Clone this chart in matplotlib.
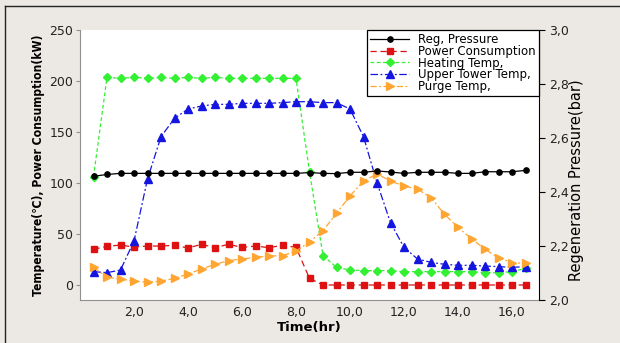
import matplotlib
matplotlib.use("Agg")
import matplotlib.pyplot as plt
from matplotlib.lines import Line2D
from matplotlib.ticker import FuncFormatter
from matplotlib import font_manager

# Sampling times (hr)
time_hr = [0.5 * i for i in range(1, 34)]

# Regeneration pressure (bar) - right axis
reg_pressure = [2.458, 2.465, 2.469, 2.469, 2.469, 2.469, 2.469, 2.469, 2.469,
                2.469, 2.469, 2.469, 2.469, 2.469, 2.469, 2.469, 2.472, 2.469,
                2.468, 2.473, 2.473, 2.478, 2.474, 2.469, 2.473, 2.473, 2.473,
                2.469, 2.469, 2.475, 2.475, 2.475, 2.480]

# Power consumption (kW) - left axis
power_kw = [35.0, 37.9, 39.2, 37.2, 38.2, 38.2, 38.9, 36.3, 39.9, 36.6, 39.9,
            36.9, 38.2, 36.6, 38.9, 36.9, 6.5, 0, 0, 0, 0, 0, 0, 0, 0, 0, 0, 0,
            0, 0, 0, 0, 0]

# Heating temperature (C)
heating_temp = [106.2, 203.6, 202.6, 203.6, 202.6, 203.6, 202.6, 203.6, 202.6,
                203.6, 202.6, 202.6, 202.6, 202.6, 202.6, 202.6, 111.0, 28.8,
                17.3, 14.7, 14.1, 14.1, 14.1, 13.1, 13.1, 13.1, 13.1, 13.1,
                13.1, 12.1, 12.1, 13.1, 16.3]

# Upper tower temperature (C)
upper_tower_temp = [13.1, 12.1, 14.7, 43.1, 103.9, 145.4, 163.4, 172.5, 175.5,
                    177.1, 177.1, 178.1, 178.1, 178.1, 178.8, 179.7, 179.7,
                    178.8, 178.8, 172.5, 145.4, 100.3, 61.1, 36.9, 25.5, 22.2,
                    20.3, 19.3, 19.3, 18.6, 18.0, 17.3, 18.0]

# Purge temperature (C)
purge_temp = [17.3, 7.5, 5.9, 3.9, 2.6, 3.9, 6.5, 10.8, 15.7, 20.3, 23.9, 25.5,
              27.1, 28.4, 28.8, 33.3, 42.2, 53.3, 70.3, 87.3, 102.0, 108.8,
              102.0, 97.0, 94.1, 85.6, 69.3, 56.5, 45.4, 35.0, 26.8, 21.9, 21.2]

x_ticks = [2, 4, 6, 8, 10, 12, 14, 16]
left_ticks = [0, 50, 100, 150, 200, 250]
right_ticks = [2.0, 2.2, 2.4, 2.6, 2.8, 3.0]

BG = "#ECE9E4"
plt.rcParams["font.family"] = ["DejaVu Sans"]

# use the condensed DejaVu face for the long left label when it is available
has_condensed = any("Condensed" in f.name or f.stretch == "condensed"
                    for f in font_manager.fontManager.ttflist
                    if f.name.startswith("DejaVu Sans"))
left_label_kw = (dict(fontsize=8.7, fontstretch="condensed",
                      family=["DejaVu Sans"])
                 if has_condensed else dict(fontsize=8))

fig = plt.figure(figsize=(6.2, 3.43), dpi=100, facecolor=BG)
ax = fig.add_axes([80 / 620, 1 - 300 / 343, 459 / 620, 270 / 343])
ax.set_facecolor("white")
ax2 = ax.twinx()

ax.set_xlim(0, 17)
ax.set_ylim(-14.7, 250)
ax2.set_ylim(2.0, 3.0)

lw = 0.9
l_press, = ax2.plot(time_hr, reg_pressure, color="black", lw=lw, ls="-",
                    marker="o", ms=3.8, label="Reg, Pressure", zorder=5)
l_power, = ax.plot(time_hr, power_kw, color="#DD1111", lw=lw, ls=(0, (5, 3)),
                   marker="s", ms=4, label="Power Consumption")
l_heat, = ax.plot(time_hr, heating_temp, color="#33F033", lw=lw, ls=(0, (3, 2)),
                  marker="D", ms=3.8, label="Heating Temp,")
l_upper, = ax.plot(time_hr, upper_tower_temp, color="#1515E0", lw=lw,
                   ls=(0, (6, 2, 1.5, 2)), marker="^", ms=5.2,
                   label="Upper Tower Temp,")
l_purge, = ax.plot(time_hr, purge_temp, color="#FFA532", lw=lw,
                   ls=(0, (5, 2, 1.5, 2)), marker=">", ms=5.2,
                   label="Purge Temp,")

comma = FuncFormatter(lambda v, p: f"{v:.1f}".replace(".", ","))
ax.set_xticks(x_ticks)
ax.xaxis.set_major_formatter(comma)
ax.set_yticks(left_ticks)
ax2.set_yticks(right_ticks)
ax2.yaxis.set_major_formatter(comma)

ax.tick_params(axis="x", length=0, labelsize=9, pad=4, colors="#222222")
ax.tick_params(axis="y", length=3, color="#909090", labelsize=9, pad=2,
               labelcolor="#222222")
ax2.tick_params(axis="y", length=4, color="black", labelsize=9, pad=3,
                labelcolor="#222222")

for a in (ax, ax2):
    a.spines["top"].set_visible(False)
ax.spines["left"].set_color("#909090")
ax.spines["bottom"].set_color("#909090")
ax2.spines["left"].set_visible(False)
ax2.spines["bottom"].set_visible(False)
ax2.spines["right"].set_color("black")
ax.spines["right"].set_visible(False)

ax.set_xlabel("Time(hr)", fontsize=9.5, fontweight="bold", labelpad=2)
ax.set_ylabel("Temperature(\u2103), Power Consumption(kW)", fontweight="bold",
              **left_label_kw)
ax.yaxis.set_label_coords(-0.076, 0.5)
ax2.set_ylabel("Regeneration Pressure(bar)", fontsize=10.5)
ax2.yaxis.set_label_coords(1.065, 0.444)

leg = ax2.legend(handles=[l_press, l_power, l_heat, l_upper, l_purge],
                 loc="upper right", bbox_to_anchor=(1.0, 1.0),
                 fontsize=8.5, frameon=True, fancybox=False, framealpha=1,
                 edgecolor="black", borderpad=0.25, labelspacing=-0.1,
                 handlelength=3.3, handletextpad=0.8, borderaxespad=0)
leg.get_frame().set_linewidth(0.9)

# window frame lines (top and left)
fig.add_artist(Line2D([5 / 620, 5 / 620], [0, 1 - 6 / 343], color="#222222",
                      lw=1, transform=fig.transFigure))
fig.add_artist(Line2D([5 / 620, 1], [1 - 6 / 343, 1 - 6 / 343],
                      color="#222222", lw=1, transform=fig.transFigure))

fig.savefig("out.png", dpi=100, facecolor=BG)
